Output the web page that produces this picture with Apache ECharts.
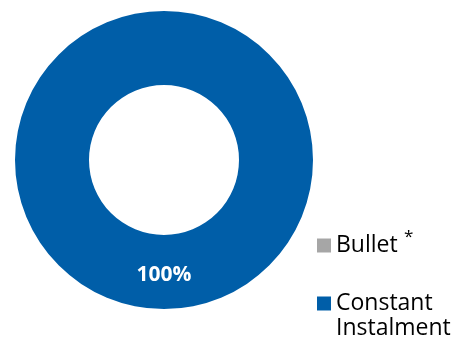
<!DOCTYPE html>
<html><head><meta charset="utf-8">
<script src="https://cdn.jsdelivr.net/npm/echarts@6/dist/echarts.min.js"></script>
<style>html,body{margin:0;padding:0;background:#fff}#c{width:458px;height:344px}</style>
</head><body><div id="c"></div>
<script>
const categories = ['Bullet', 'Constant\nInstalment'];
const values = [0, 100];
const colors = ['#A6A6A6', '#005EA8'];
const labelText = ['', '100%'];
const footnoteMark = '*';

const baseText = { fontFamily: 'Open Sans', fontSize: 23, color: '#000', lineHeight: 25 };
const chart = echarts.init(document.getElementById('c'), null, {renderer: 'canvas'});
chart.setOption({
  animation: false,
  legend: [{
    orient: 'vertical',
    left: 317,
    top: 233,
    padding: 0,
    itemWidth: 14,
    itemHeight: 14,
    icon: 'rect',
    data: [categories[0]],
    textStyle: baseText
  }, {
    orient: 'vertical',
    left: 317,
    top: 266,
    padding: 0,
    itemWidth: 14,
    itemHeight: 14,
    icon: 'rect',
    data: [categories[1]],
    formatter: function (n) { return ' \n' + n; },
    textStyle: baseText
  }],
  graphic: [{
    type: 'text',
    x: 404,
    y: 237,
    style: { text: footnoteMark, fontFamily: 'Open Sans', fontSize: 17, fill: '#000', verticalAlign: 'middle', align: 'left' }
  }],
  series: [{
    type: 'pie',
    center: [164, 160],
    radius: [75, 149],
    startAngle: 90,
    clockwise: true,
    label: {
      show: true,
      position: 'inside',
      color: '#fff',
      fontFamily: 'Open Sans',
      fontWeight: 'bold',
      fontSize: 21,
      formatter: function (p) { return labelText[p.dataIndex]; }
    },
    labelLine: { show: false },
    emphasis: { disabled: true },
    data: categories.map((c, i) => ({ name: c, value: values[i], itemStyle: { color: colors[i] }, label: { show: values[i] > 0 } }))
  }]
});
</script></body></html>
